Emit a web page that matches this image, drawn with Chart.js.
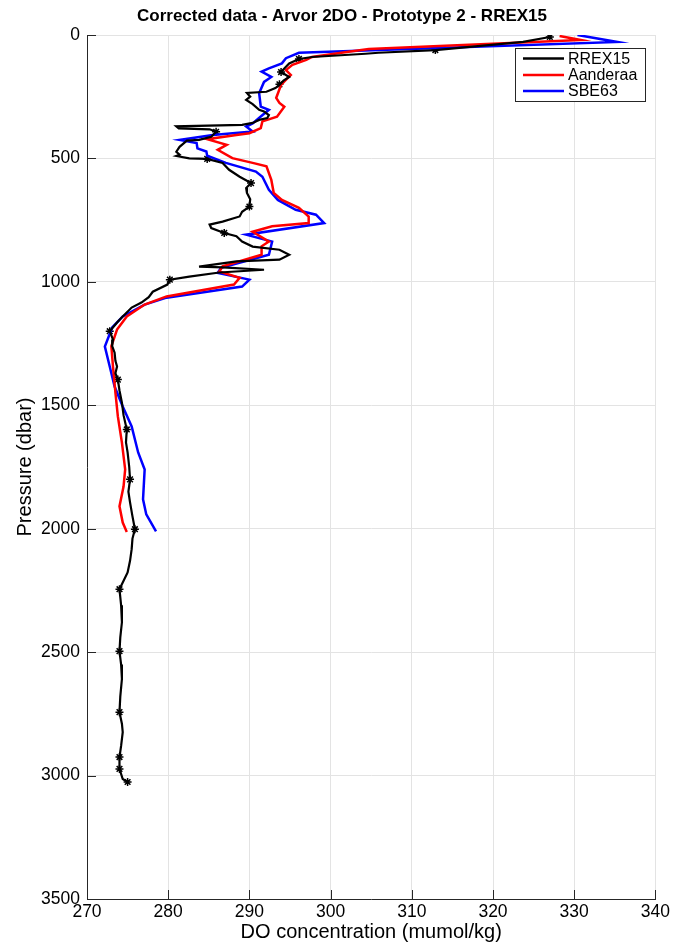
<html>
<head>
<script src="https://cdn.jsdelivr.net/npm/chart.js@4.4.0/dist/chart.umd.min.js"></script>
<style>
  body { margin: 0; background: #fff; }
</style>
</head>
<body>
<canvas id="myChart" width="673" height="944"></canvas>
<script>
// RREX15 reference profile (black)
var rrexPres = [8, 28, 61, 72, 76, 89, 97, 115, 129, 150, 170, 185, 202, 215, 230, 235, 250, 263, 280, 303, 310, 324, 336, 344, 356, 364,
  370, 378, 382, 392, 412, 425, 428, 453, 473, 485, 490, 500, 502, 518, 546, 574, 600, 620, 640, 665, 695, 716, 735, 756, 768, 782,
  802, 815, 837, 857, 870, 890, 910, 917, 938, 941, 951, 962, 979, 991, 1011, 1040, 1062, 1084, 1104, 1140, 1165, 1200, 1234, 1260,
  1287, 1320, 1343, 1370, 1396, 1440, 1489, 1540, 1598, 1650, 1691, 1750, 1800, 1850, 1893, 1950, 2002, 2040, 2083, 2130, 2177,
  2245, 2310, 2379, 2440, 2496, 2550, 2609, 2680, 2743, 2790, 2824, 2880, 2925, 2973, 3014, 3026];
var rrexDO = [327.0, 323.7, 312.9, 305.9, 304.3, 297.7, 296.1, 294.9, 294.5, 293.9, 294.9, 294.2, 293.7, 293.2, 292.1, 289.7, 290.1, 289.6, 290.4, 291.2, 291.8, 292.4, 292.2, 291.2, 290.4, 289.1,
  281.0, 281.3, 285.1, 285.9, 285.3, 283.8, 282.3, 281.4, 281.0, 281.4, 281.0, 282.6, 284.8, 286.7, 287.5, 288.8, 290.2, 289.6, 289.7, 290.1, 290.0, 289.1, 288.8, 286.7, 285.1, 285.3,
  286.9, 288.4, 289.1, 290.4, 293.7, 294.9, 293.7, 288.4, 283.8, 286.7, 291.8, 286.3, 282.6, 280.2, 279.9, 278.1, 277.6, 276.7, 275.5, 274.4, 273.7, 272.8, 273.2, 273.1,
  273.4, 273.5, 273.7, 273.5, 273.8, 274.0, 274.3, 274.5, 274.9, 274.8, 275.0, 275.2, 275.3, 275.1, 275.3, 275.6, 275.9, 275.6, 275.5, 275.3, 275.0,
  274.0, 274.2, 274.3, 274.1, 274.0, 274.2, 274.3, 274.1, 274.0, 274.3, 274.4, 274.2, 274.0, 274.0, 274.4, 275.0];

// Aanderaa optode (red)
var aandPres = [4, 20, 57, 68, 89, 101, 121, 142, 162, 175, 202, 255, 275, 291, 331, 350, 377, 398, 405, 422, 445, 465, 499, 518, 532,
  587, 640, 668, 700, 735, 762, 775, 797, 837, 856, 890, 937, 958, 984, 1011, 1059, 1092, 1140, 1193, 1260, 1343, 1449, 1545, 1651,
  1760, 1829, 1909, 1975, 2013];
var aandDO = [328.2, 330.8, 304.7, 302.2, 297.7, 297.0, 295.3, 294.5, 295.1, 294.7, 293.9, 293.3, 293.7, 294.3, 293.4, 291.6, 291.4, 290.0, 288.4, 284.8, 287.2, 286.1, 287.9, 290.4, 292.1,
  292.7, 293.0, 294.0, 296.1, 297.3, 297.3, 292.8, 290.4, 292.4, 291.5, 291.5, 286.7, 286.3, 288.8, 288.1, 279.8, 277.1, 274.9, 273.7, 273.0, 273.2, 273.5, 273.8, 274.3,
  274.7, 274.5, 274.0, 274.4, 274.9];

// SBE63 (blue)
var sbePres = [0, 28, 72, 94, 115, 135, 148, 170, 190, 236, 290, 303, 330, 358, 371, 391, 405, 425, 438, 459, 472, 489, 518, 553, 574,
  627, 668, 708, 728, 762, 809, 837, 890, 943, 964, 991, 1019, 1064, 1092, 1140, 1185, 1262, 1343, 1424, 1505, 1586, 1691, 1760,
  1881, 1942, 2011];
var sbeDO = [330.4, 335.3, 296.1, 294.5, 294.0, 292.4, 291.5, 292.7, 291.8, 291.2, 291.4, 292.4, 291.4, 290.4, 289.6, 290.4, 285.5, 281.4, 283.5, 283.6, 284.7, 284.8, 287.1, 290.8, 291.6,
  292.4, 293.5, 295.7, 298.2, 299.2, 289.6, 292.8, 292.4, 286.5, 286.1, 290.0, 289.1, 279.8, 277.1, 274.4, 273.1, 272.2, 272.8, 273.4, 274.4, 275.5, 276.3, 277.1,
  276.9, 277.3, 278.5];

// bottle samples (stars)
var starPres = [8, 61, 97, 150, 200, 392, 502, 600, 695, 802, 991, 1200, 1396, 1598, 1800, 2002, 2245, 2496, 2743, 2925, 2973, 3026];
var starDO = [327.0, 312.9, 296.1, 293.9, 293.7, 285.9, 284.8, 290.2, 290.0, 286.9, 280.2, 272.8, 273.8, 274.9, 275.3, 275.9, 274.0, 274.0, 274.0, 274.0, 274.0, 275.0];

var xTicks = [270, 280, 290, 300, 310, 320, 330, 340];
var yTicks = [0, 500, 1000, 1500, 2000, 2500, 3000, 3500];
var titleText = 'Corrected data - Arvor 2DO - Prototype 2 - RREX15';

function pts(xs, ys) {
  return xs.map(function (v, i) { return { x: v, y: ys[i] }; });
}

var FONT = "'Liberation Sans', Arial, sans-serif";
var AXIS = '#262626';

// title, ticks drawn inward + boxed legend in the top right
var matlabBits = {
  id: 'matlabBits',
  afterDraw: function (chart) {
    var ctx = chart.ctx, a = chart.chartArea;
    var xs = chart.scales.x, ys = chart.scales.y;
    ctx.save();
    ctx.fillStyle = '#000';
    ctx.font = 'bold 17px ' + FONT;
    ctx.textAlign = 'center';
    ctx.textBaseline = 'middle';
    ctx.fillText(titleText, 342, 16);

    ctx.strokeStyle = AXIS;
    ctx.lineWidth = 1;
    ctx.beginPath();
    xTicks.forEach(function (t) {
      var px = Math.round(xs.getPixelForValue(t)) + 0.5;
      ctx.moveTo(px, a.bottom); ctx.lineTo(px, a.bottom - 9);
    });
    yTicks.forEach(function (t) {
      var py = Math.round(ys.getPixelForValue(t)) + 0.5;
      ctx.moveTo(a.left, py); ctx.lineTo(a.left + 9, py);
    });
    ctx.stroke();

    // legend
    var bx = 515.5, by = 48.5, bw = 130, bh = 53;
    ctx.fillStyle = '#fff';
    ctx.fillRect(bx, by, bw, bh);
    ctx.strokeStyle = '#262626';
    ctx.strokeRect(bx, by, bw, bh);
    ctx.font = '16px ' + FONT;
    ctx.textAlign = 'left';
    ctx.textBaseline = 'middle';
    var rows = [58.5, 75, 91];
    for (var i = 0; i < 3; i++) {
      var ds = chart.data.datasets[i];
      ctx.strokeStyle = ds.borderColor;
      ctx.lineWidth = 2.5;
      ctx.beginPath();
      ctx.moveTo(523, rows[i]); ctx.lineTo(564, rows[i]);
      ctx.stroke();
      ctx.fillStyle = '#000';
      ctx.fillText(ds.label, 568, rows[i] + 1);
    }
    ctx.restore();
  }
};

new Chart(document.getElementById('myChart'), {
  type: 'line',
  data: {
    datasets: [
      { label: 'RREX15', data: pts(rrexDO, rrexPres), borderColor: '#000000', borderWidth: 2.2, pointRadius: 0, tension: 0 },
      { label: 'Aanderaa', data: pts(aandDO, aandPres), borderColor: '#ff0000', borderWidth: 2.5, pointRadius: 0, tension: 0 },
      { label: 'SBE63', data: pts(sbeDO, sbePres), borderColor: '#0000ff', borderWidth: 2.5, pointRadius: 0, tension: 0 },
      { label: 'bottles', data: pts(starDO, starPres), showLine: false, pointStyle: 'star', pointRadius: 4,
        borderColor: '#000000', backgroundColor: '#000000', pointBorderWidth: 1.5 }
    ]
  },
  options: {
    responsive: false,
    animation: false,
    layout: { padding: { left: 0, right: 15, top: 35, bottom: 0 } },
    plugins: {
      legend: { display: false },
      tooltip: { enabled: false },
      title: { display: false }
    },
    scales: {
      x: {
        type: 'linear', min: 270, max: 340,
        afterBuildTicks: function (s) { s.ticks = xTicks.map(function (v) { return { value: v }; }); },
        afterFit: function (s) { s.height = 45; },
        grid: { color: '#e3e3e3', lineWidth: 1, drawTicks: false },
        border: { color: AXIS, width: 1 },
        ticks: { color: '#000', padding: 3, font: { family: FONT, size: 17.5 },
          callback: function (v) { return String(v); } },
        title: { display: true, text: 'DO concentration (mumol/kg)', color: '#000',
          font: { family: FONT, size: 20 }, padding: { top: 0, bottom: 0 } }
      },
      y: {
        type: 'linear', min: 0, max: 3500, reverse: true,
        afterBuildTicks: function (s) { s.ticks = yTicks.map(function (v) { return { value: v }; }); },
        afterFit: function (s) { s.width = 87; },
        grid: { color: '#e3e3e3', lineWidth: 1, drawTicks: false },
        border: { color: AXIS, width: 1 },
        ticks: { color: '#000', padding: 7, font: { family: FONT, size: 17.5 },
          callback: function (v) { return String(v); } },
        title: { display: true, text: 'Pressure (dbar)', color: '#000',
          font: { family: FONT, size: 20 }, padding: { top: 13, bottom: 0 } }
      }
    }
  },
  plugins: [matlabBits]
});
</script>
</body>
</html>
